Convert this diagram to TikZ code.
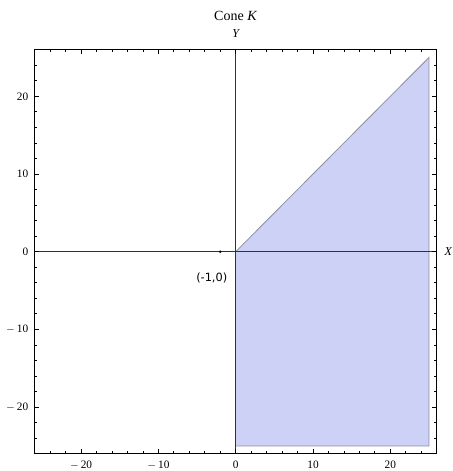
\documentclass[tikz,border=0pt]{standalone}
\usepackage{fontspec}
\setmainfont{Liberation Serif}
\newfontfamily\labfont{DejaVu Sans}
\definecolor{conefill}{RGB}{204,209,245}
\definecolor{coneedge}{RGB}{140,142,165}
\definecolor{axisgray}{RGB}{50,50,50}
\begin{document}
\begin{tikzpicture}[x=5.7975pt,y=5.8275pt,
  ticklab/.style={font=\fontsize{8.5}{10}\selectfont,inner sep=0pt},
  frame/.style={black,line width=0.9pt},
  axisline/.style={axisgray,line width=0.8pt},
  tickline/.style={black,line width=0.6pt}]
\useasboundingbox (-30.49,32.39) rectangle (27.98,-28.22);
% cone region
\fill[conefill] (0,0) -- (25,25) -- (25,-25) -- (0,-25) -- cycle;
\draw[coneedge,line width=0.6pt,line join=miter] (0,0) -- (25,25) -- (25,-25) -- (0,-25);
% axes
\draw[axisline] (-26,0) -- (26,0);
\draw[axisline] (0,-26) -- (0,26);
% point
\fill[black] (-2,0) circle (0.18);
% frame ticks
\foreach \v in {-20,-10,0,10,20}{
  \draw[tickline] (\v,-26) -- ++(0,0.55);
  \draw[tickline] (\v,26) -- ++(0,-0.55);
  \draw[tickline] (-26,\v) -- ++(0.55,0);
  \draw[tickline] (26,\v) -- ++(-0.55,0);
}
\foreach \v in {-24,-22,-18,-16,-14,-12,-8,-6,-4,-2,2,4,6,8,12,14,16,18,22,24}{
  \draw[tickline] (\v,-26) -- ++(0,0.3);
  \draw[tickline] (\v,26) -- ++(0,-0.3);
  \draw[tickline] (-26,\v) -- ++(0.3,0);
  \draw[tickline] (26,\v) -- ++(-0.3,0);
}
\draw[frame] (-26,-26) rectangle (26,26);
% tick labels
\node[ticklab,anchor=base] (bxm20) at (-20,-27.95) {$-$\,20};
\node[ticklab,anchor=base] (bxm10) at (-10,-27.95) {$-$\,10};
\node[ticklab,anchor=base] (bx0) at (0,-27.95) {0};
\node[ticklab,anchor=base] (bx10) at (10,-27.95) {10};
\node[ticklab,anchor=base] (bx20) at (20,-27.95) {20};
\node[ticklab,anchor=east] (lym20) at (-26.8,-20) {$-$\,20};
\node[ticklab,anchor=east] (lym10) at (-26.8,-10) {$-$\,10};
\node[ticklab,anchor=east] (ly0) at (-26.8,0) {0};
\node[ticklab,anchor=east] (ly10) at (-26.8,10) {10};
\node[ticklab,anchor=east] (ly20) at (-26.8,20) {20};
% labels
\node[font=\fontsize{10.5}{12}\selectfont,inner sep=0pt] (title) at (0,30.3) {Cone \textit{K}};
\node[font=\fontsize{9}{10}\selectfont\itshape,inner sep=0pt] (ylab) at (0,28.1) {Y};
\node[font=\fontsize{9}{10}\selectfont\itshape,inner sep=0pt,anchor=west] (xlab) at (27.0,0) {X};
\node[font=\labfont\fontsize{8.5}{10}\selectfont,inner sep=0pt] (pt) at (-3.1,-3.4) {(-1,0)};
\end{tikzpicture}
\end{document}
